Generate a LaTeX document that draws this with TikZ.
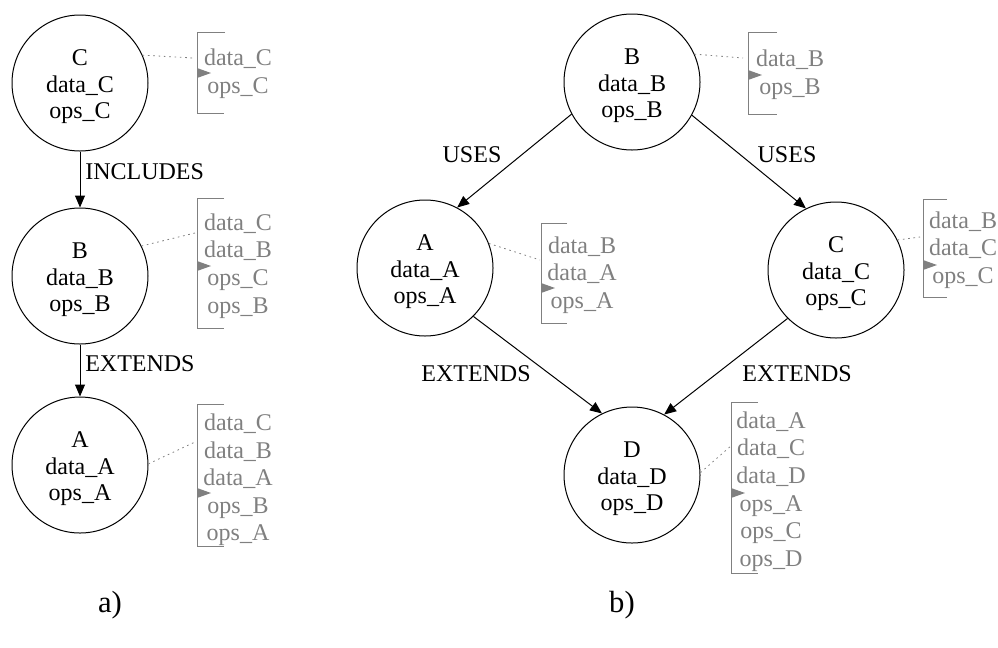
\documentclass[tikz,border=0pt]{standalone}
\usepackage{fontspec}
\setmainfont{Liberation Serif}
\usetikzlibrary{arrows.meta}
\definecolor{listgray}{RGB}{128,128,128}
\begin{document}
\begin{tikzpicture}[x=0.75pt,y=-0.75pt,
  cls/.style={draw,circle,minimum size=102pt,inner sep=0pt,line width=0.75pt},
  clstext/.style={align=center,inner sep=0pt,font=\fontsize{18}{19.9}\selectfont},
  members/.style={text=listgray,align=center,inner sep=0pt,
    font=\fontsize{18}{20.7}\selectfont},
  rel/.style={line width=0.75pt,-{Triangle[length=9pt,width=7.5pt]}},
  rellabel/.style={inner sep=0pt,font=\fontsize{18}{20}\selectfont},
  bracket/.style={draw=listgray,line width=0.75pt},
  link/.style={draw=listgray,line width=0.6pt,dash pattern=on 1.2pt off 2.8pt},
  caption/.style={inner sep=0pt,font=\fontsize{23}{26}\selectfont}
]
\useasboundingbox[fill=white] (0,0) rectangle (998,647);

% ---------- a) single inheritance chain ----------
\node[cls] (C1) at (80,83)  {};
\node[cls] (B1) at (80,276) {};
\node[cls] (A1) at (80,465) {};
\node[clstext] (tC1) at (80,87)  {C\\data\_C\\ops\_C};
\node[clstext] (tB1) at (80,280) {B\\data\_B\\ops\_B};
\node[clstext] (tA1) at (80,469) {A\\data\_A\\ops\_A};

\draw[rel] (C1.south) -- (B1.north);
\draw[rel] (B1.south) -- (A1.north);
\node[rellabel,anchor=west] (lInc) at (85,172) {INCLUDES};
\node[rellabel,anchor=west] (lExt1) at (85,364) {EXTENDS};

% member lists
\node[members] (mC1) at (238,73.5) {data\_C\\ops\_C};
\draw[bracket] (225,32) -| (197,113) -- (224,113);
\fill[listgray] (197,68) -- (211,73) -- (197,78) -- cycle;
\coordinate (eC1) at (193,58);
\draw[link] (C1.24) -- (eC1);

\node[members] (mB1) at (238,266) {data\_C\\data\_B\\ops\_C\\ops\_B};
\draw[bracket] (224,198) -| (197,328) -- (224,328);
\fill[listgray] (197,261) -- (211,266) -- (197,271) -- cycle;
\coordinate (eB1) at (195,233);
\draw[link] (B1.26) -- (eB1);

\node[members] (mA1) at (238,480) {data\_C\\data\_B\\data\_A\\ops\_B\\ops\_A};
\draw[bracket] (224,404) -| (197,546) -- (224,546);
\fill[listgray] (197,488) -- (211,493) -- (197,498) -- cycle;
\coordinate (eA1) at (195,442);
\draw[link] (A1.1) -- (eA1);

\node[caption] (capA) at (110,605) {a)};

% ---------- b) diamond ----------
\node[cls] (B2) at (632,82)  {};
\node[cls] (A2) at (425,268) {};
\node[cls] (C2) at (836,270) {};
\node[cls] (D2) at (632,475) {};
\node[clstext] (tB2) at (632,86)  {B\\data\_B\\ops\_B};
\node[clstext] (tA2) at (425,272) {A\\data\_A\\ops\_A};
\node[clstext] (tC2) at (836,274) {C\\data\_C\\ops\_C};
\node[clstext] (tD2) at (632,479) {D\\data\_D\\ops\_D};

\draw[rel] (B2.208) -- (A2.62);
\draw[rel] (B2.331.6) -- (C2.116);
\draw[rel] (A2.315) -- (D2.116.6);
\draw[rel] (C2.225) -- (D2.62.7);
\node[rellabel] (lUse1) at (472,155) {USES};
\node[rellabel] (lUse2) at (787,155) {USES};
\node[rellabel] (lExt2) at (476,374) {EXTENDS};
\node[rellabel] (lExt3) at (797,374) {EXTENDS};

% member lists
\node[members] (mB2) at (790,75) {data\_B\\ops\_B};
\draw[bracket] (777,32) -| (748,114) -- (777,114);
\fill[listgray] (748,70) -- (762,75) -- (748,80) -- cycle;
\coordinate (eB2) at (743,58);
\draw[link] (B2.24) -- (eB2);

\node[members] (mA2) at (582,275) {data\_B\\data\_A\\ops\_A};
\draw[bracket] (567,223) -| (541,323) -- (567,323);
\fill[listgray] (541,283) -- (555,288) -- (541,293) -- cycle;
\coordinate (eA2) at (540,260);
\draw[link] (A2.21) -- (eA2);

\node[members] (mC2) at (963,250) {data\_B\\data\_C\\ops\_C};
\draw[bracket] (947,199) -| (923,297) -- (947,297);
\fill[listgray] (923,260) -- (937,265) -- (923,270) -- cycle;
\coordinate (eC2) at (920,237);
\draw[link] (C2.26) -- (eC2);

\node[members] (mD2) at (771,491.5) {data\_A\\data\_C\\data\_D\\ops\_A\\ops\_C\\ops\_D};
\draw[bracket] (758,402) -| (731,573) -- (758,573);
\fill[listgray] (731,488) -- (745,493) -- (731,498) -- cycle;
\coordinate (eD2) at (732,445);
\draw[link] (D2.2) -- (eD2);

\node[caption] (capB) at (622,605) {b)};
\end{tikzpicture}
\end{document}
